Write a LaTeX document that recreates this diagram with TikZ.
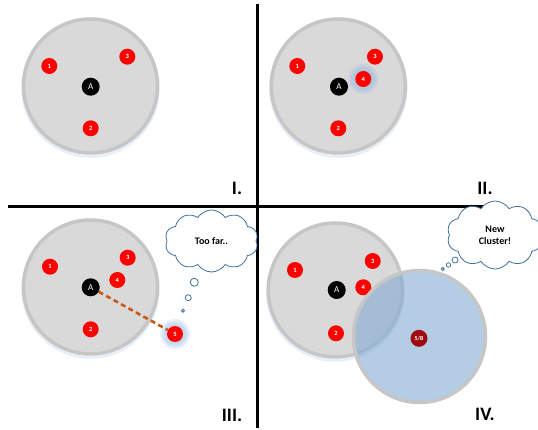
\documentclass[tikz,border=0pt]{standalone}
\usepackage{fontspec}
\setmainfont{Carlito}
\usetikzlibrary{shapes.symbols}
\definecolor{cfill}{HTML}{D9D9D9}
\definecolor{cline}{HTML}{C6C6C6}
\definecolor{ptred}{HTML}{FF0000}
\definecolor{ptdark}{HTML}{9E0B0F}
\definecolor{glowblue}{HTML}{8EB4E3}
\definecolor{newfill}{RGB}{130,170,210}
\definecolor{cloudline}{HTML}{41719C}
\definecolor{dashbrown}{HTML}{C55A11}
\tikzset{
  clusterbox/.style={circle, fill=cfill, draw=cline, line width=3.5pt, minimum size=134pt, inner sep=0pt},
  newbox/.style={circle, fill=newfill, fill opacity=0.6, draw=cline, draw opacity=1, line width=3.5pt, minimum size=132pt, inner sep=0pt},
  redpt/.style={circle, fill=ptred, text=white, font=\fontsize{6.5}{7}\selectfont\bfseries, minimum size=16pt, inner sep=0pt},
  darkpt/.style={circle, fill=ptdark, text=white, font=\fontsize{6}{6}\selectfont\bfseries, minimum size=17pt, inner sep=0pt},
  apt/.style={circle, fill=black, text=white, font=\fontsize{9}{9}\selectfont, minimum size=18pt, inner sep=0pt},
  quadlabel/.style={font=\fontsize{19}{19}\selectfont\bfseries, inner sep=0pt},
  axis/.style={line width=2.6pt, black},
  thought/.style={cloud, cloud puffs=10, cloud puff arc=115, aspect=1.45, draw=cloudline, line width=0.8pt, fill=white, align=center, font=\fontsize{10}{12}\selectfont\bfseries, inner sep=0pt},
  bubble/.style={circle, draw=cloudline, line width=0.8pt, fill=white, inner sep=0pt},
  glow/.style={fill=glowblue, fill opacity=0.2, draw=none},
  shadowring/.style={draw=glowblue, draw opacity=0.22, line width=2.5pt}
}
\tikzset{toofar/.style={dashbrown, line width=2.6pt, dash pattern=on 5pt off 3.5pt}}
\begin{document}
\begin{tikzpicture}[x=1pt,y=-1pt]
\useasboundingbox (0,0) rectangle (538,430);
\fill[white] (0,0) rectangle (538,430);

% axes
\draw[axis] (257.5,4) -- (257.5,428);
\draw[axis] (8,206.5) -- (490,206.5);

% ---------- Quadrant I ----------
\draw[shadowring] (90.5,88.5) circle (68pt);
\node[clusterbox] (c1) at (90.5,86) {};
\node[redpt] (p11) at (49.3,66) {1};
\node[redpt] (p13) at (127.3,56.7) {3};
\node[redpt] (p12) at (90.7,128.3) {2};
\node[apt] (a1) at (90.7,86.7) {A};
\node[quadlabel] (l1) at (237,188) {I.};

% ---------- Quadrant II ----------
\draw[shadowring] (338.3,88.5) circle (68pt);
\node[clusterbox] (c2) at (338.3,86) {};
\foreach \r in {15,13,11} \fill[glow] (363.3,79) circle (\r pt);
\node[redpt] (p21) at (297.3,66) {1};
\node[redpt] (p23) at (375,56.7) {3};
\node[redpt] (p24) at (363.3,79) {4};
\node[redpt] (p22) at (338.3,128.3) {2};
\node[apt] (a2) at (339,86.7) {A};
\node[quadlabel] (l2) at (485,188) {II.};

% ---------- Quadrant III ----------
\draw[shadowring] (90.5,289.5) circle (68pt);
\node[clusterbox] (c3) at (90.5,287) {};
\foreach \r in {15,13,11} \fill[glow] (175,334) circle (\r pt);
\node[redpt] (p31) at (50,266.7) {1};
\node[redpt] (p33) at (127.7,257.7) {3};
\node[redpt] (p34) at (117.3,280) {4};
\node[redpt] (p32) at (90.7,329.3) {2};
\node[apt] (a3) at (90.7,287.3) {A};
\node[redpt] (p35) at (175,334) {5};
\draw[toofar] (a3) -- (p35);
\node[thought, minimum width=93pt, minimum height=62pt] (t3) at (211.5,241) {Too far..};
\node[bubble, minimum size=8pt] (b31) at (194.3,282.3) {};
\node[bubble, minimum size=6pt] (b32) at (188.3,297.7) {};
\node[bubble, minimum size=3pt] (b33) at (183,310.7) {};
\node[quadlabel] (l3) at (232,415) {III.};

% ---------- Quadrant IV ----------
\draw[shadowring] (335.3,292.5) circle (68pt);
\node[clusterbox] (c4) at (335.3,290) {};
\node[redpt] (p41) at (295,270) {1};
\node[redpt] (p43) at (372.7,261) {3};
\node[redpt] (p44) at (363.3,287.3) {4};
\node[redpt] (p42) at (336,333.3) {2};
\node[apt] (a4) at (336.7,290) {A};
\node[newbox] (c5) at (419.5,336.5) {};
\node[darkpt] (p45) at (419,338.3) {5/B};
\node[thought, minimum width=96pt, minimum height=68pt] (t4) at (495,235) {New\\Cluster!};
\node[bubble, minimum size=6pt] (b41) at (455,260) {};
\node[bubble, minimum size=4.5pt] (b42) at (448.5,265) {};
\node[bubble, minimum size=3pt] (b43) at (442.7,269) {};
\node[quadlabel] (l4) at (485,414) {IV.};
\end{tikzpicture}
\end{document}
